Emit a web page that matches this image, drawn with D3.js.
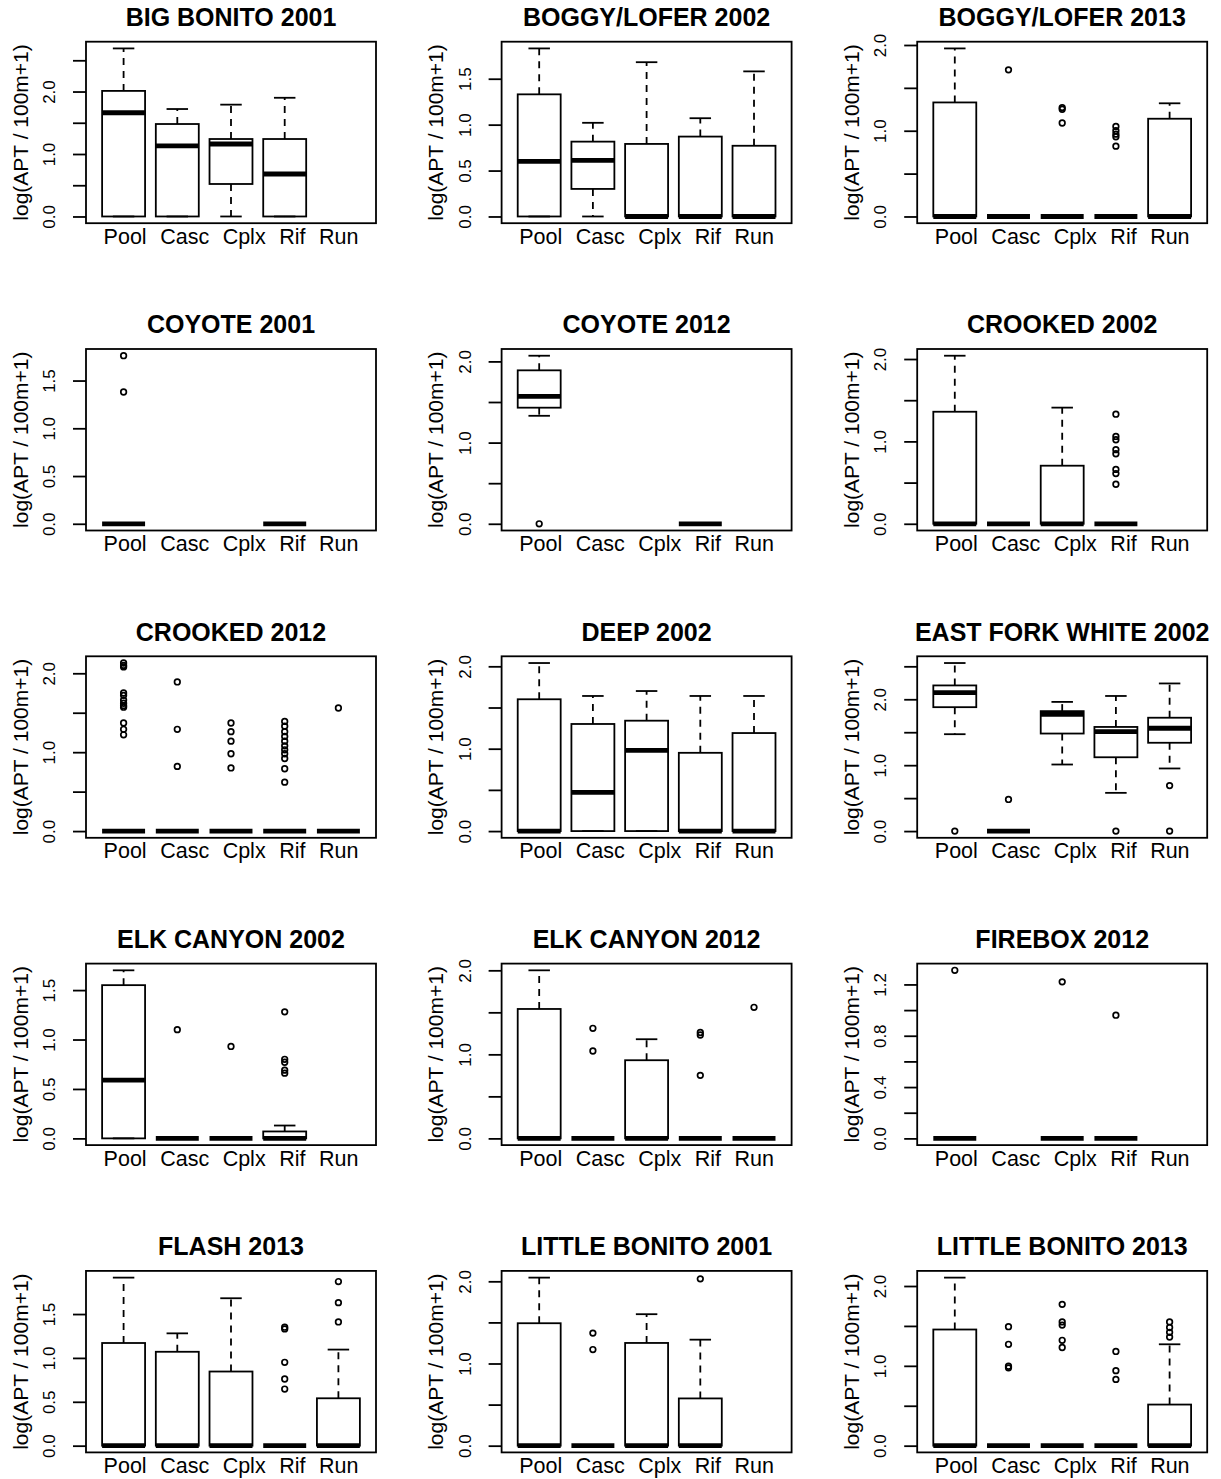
<!DOCTYPE html>
<html>
<head>
<meta charset="utf-8">
<script src="https://cdn.jsdelivr.net/npm/d3@7"></script>
<style>
  body { margin: 0; background: #fff; }
  svg text { font-family: "Liberation Sans", Arial, sans-serif; fill: #000; }
</style>
</head>
<body>
<script>
'use strict';

// panel titles, in reading order (3 per row)
var panels = [
  'BIG BONITO 2001', 'BOGGY/LOFER 2002', 'BOGGY/LOFER 2013',
  'COYOTE 2001', 'COYOTE 2012', 'CROOKED 2002',
  'CROOKED 2012', 'DEEP 2002', 'EAST FORK WHITE 2002',
  'ELK CANYON 2002', 'ELK CANYON 2012', 'FIREBOX 2012',
  'FLASH 2013', 'LITTLE BONITO 2001', 'LITTLE BONITO 2013'
];

var habitats = ['Pool', 'Casc', 'Cplx', 'Rif', 'Run'];

// [low whisker, Q1, median, Q3, high whisker] per habitat, null = no samples
var stats = [
  [[0, 0, 1.66, 2.01, 2.69], [0, 0, 1.13, 1.48, 1.72], [0, 0.52, 1.16, 1.24, 1.79], [0, 0, 0.68, 1.24, 1.90], null],
  [[0, 0, 0.60, 1.33, 1.83], [0, 0.30, 0.61, 0.815, 1.02], [0, 0, 0, 0.79, 1.68], [0, 0, 0, 0.87, 1.07], [0, 0, 0, 0.77, 1.58]],
  [[0, 0, 0, 1.33, 1.96], [0, 0, 0, 0, 0], [0, 0, 0, 0, 0], [0, 0, 0, 0, 0], [0, 0, 0, 1.14, 1.32]],
  [[0, 0, 0, 0, 0], null, null, [0, 0, 0, 0, 0], null],
  [[1.33, 1.43, 1.57, 1.89, 2.07], null, null, [0, 0, 0, 0, 0], null],
  [[0, 0, 0, 1.36, 2.04], [0, 0, 0, 0, 0], [0, 0, 0, 0.705, 1.41], [0, 0, 0, 0, 0], null],
  [[0, 0, 0, 0, 0], [0, 0, 0, 0, 0], [0, 0, 0, 0, 0], [0, 0, 0, 0, 0], [0, 0, 0, 0, 0]],
  [[0, 0, 0, 1.60, 2.04], [0, 0, 0.47, 1.30, 1.64], [0, 0, 0.98, 1.34, 1.70], [0, 0, 0, 0.95, 1.64], [0, 0, 0, 1.19, 1.64]],
  [[1.47, 1.88, 2.10, 2.21, 2.55], [0, 0, 0, 0, 0], [1.01, 1.48, 1.77, 1.82, 1.96], [0.58, 1.12, 1.51, 1.58, 2.05], [0.95, 1.34, 1.56, 1.72, 2.24]],
  [[0, 0, 0.59, 1.55, 1.70], [0, 0, 0, 0, 0], [0, 0, 0, 0, 0], [0, 0, 0, 0.07, 0.13], null],
  [[0, 0, 0, 1.54, 2.0], [0, 0, 0, 0, 0], [0, 0, 0, 0.93, 1.18], [0, 0, 0, 0, 0], [0, 0, 0, 0, 0]],
  [[0, 0, 0, 0, 0], null, [0, 0, 0, 0, 0], [0, 0, 0, 0, 0], null],
  [[0, 0, 0, 1.17, 1.915], [0, 0, 0, 1.07, 1.28], [0, 0, 0, 0.845, 1.68], [0, 0, 0, 0, 0], [0, 0, 0, 0.54, 1.095]],
  [[0, 0, 0, 1.49, 2.045], [0, 0, 0, 0, 0], [0, 0, 0, 1.25, 1.60], [0, 0, 0, 0.575, 1.29], null],
  [[0, 0, 0, 1.455, 2.105], [0, 0, 0, 0, 0], [0, 0, 0, 0, 0], [0, 0, 0, 0, 0], [0, 0, 0, 0.515, 1.27]]
];

// outlying points per habitat
var outliers = [
  [[], [], [], [], []],
  [[], [], [], [], []],
  [[], [1.71], [1.27, 1.25, 1.09], [1.05, 1.0, 0.96, 0.93, 0.82], []],
  [[1.76, 1.38], [], [], [], []],
  [[0], [], [], [], []],
  [[], [], [], [1.33, 1.06, 1.02, 0.90, 0.85, 0.66, 0.61, 0.48], []],
  [[2.13, 2.10, 2.08, 1.75, 1.72, 1.66, 1.62, 1.59, 1.57, 1.37, 1.29, 1.22],
   [1.89, 1.29, 0.82],
   [1.37, 1.26, 1.14, 0.98, 0.80],
   [1.39, 1.33, 1.26, 1.20, 1.14, 1.08, 1.03, 0.98, 0.92, 0.79, 0.62],
   [1.56]],
  [[], [], [], [], []],
  [[0], [0.48], [], [0], [0.69, 0]],
  [[], [1.10], [0.93], [1.28, 0.80, 0.77, 0.69, 0.66], []],
  [[], [1.31, 1.04], [], [1.26, 1.23, 0.75], [1.56]],
  [[1.31], [], [1.22], [0.96], []],
  [[], [], [], [1.35, 1.33, 0.95, 0.76, 0.645], [1.87, 1.63, 1.41]],
  [[], [1.37, 1.17], [], [2.03], []],
  [[], [1.49, 1.27, 0.995, 0.975], [1.77, 1.55, 1.51, 1.32, 1.23], [1.18, 0.94, 0.83], [1.55, 1.48, 1.42, 1.36]]
];

// y ticks and the ones that carry a label
var yTicks = [
  [0, 0.5, 1, 1.5, 2, 2.5], [0, 0.5, 1, 1.5], [0, 0.5, 1, 1.5, 2],
  [0, 0.5, 1, 1.5], [0, 0.5, 1, 1.5, 2], [0, 0.5, 1, 1.5, 2],
  [0, 0.5, 1, 1.5, 2], [0, 0.5, 1, 1.5, 2], [0, 0.5, 1, 1.5, 2, 2.5],
  [0, 0.5, 1, 1.5], [0, 0.5, 1, 1.5, 2], [0, 0.2, 0.4, 0.6, 0.8, 1.0, 1.2],
  [0, 0.5, 1, 1.5], [0, 0.5, 1, 1.5, 2], [0, 0.5, 1, 1.5, 2]
];
var yLabels = [
  [0, 1, 2], [0, 0.5, 1, 1.5], [0, 1, 2],
  [0, 0.5, 1, 1.5], [0, 1, 2], [0, 1, 2],
  [0, 1, 2], [0, 1, 2], [0, 1, 2],
  [0, 0.5, 1, 1.5], [0, 1, 2], [0, 0.4, 0.8, 1.2],
  [0, 0.5, 1, 1.5], [0, 1, 2], [0, 1, 2]
];

var Y_TITLE = 'log(APT / 100m+1)';

// panel geometry
var W = 290, H = 181.5;
var X0 = 86, Y0 = 41.7, DX = 415.6, DY = 307.3;

var svg = d3.select('body')
    .append('svg')
    .attr('width', 1221)
    .attr('height', 1479);

var fmt = d3.format('.1f');

panels.forEach(function(title, i) {
    var col = i % 3, row = Math.floor(i / 3);
    var g = svg.append('g')
        .attr('transform', 'translate(' + (X0 + col * DX) + ',' + (Y0 + row * DY) + ')');

    // R style range: data extent padded by 4%
    var all = [];
    stats[i].forEach(function(s) { if (s) all = all.concat(s); });
    outliers[i].forEach(function(o) { all = all.concat(o); });
    var lo = d3.min(all), hi = d3.max(all), pad = (hi - lo) * 0.04;

    var y = d3.scaleLinear().domain([lo - pad, hi + pad]).range([H, 0]);
    var x = d3.scaleLinear().domain([0.3, 5.7]).range([0, W]);

    var boxes = habitats.map(function(h, k) {
        return { k: k + 1, s: stats[i][k], out: outliers[i][k] };
    });

    boxes.forEach(function(b) {
        var s = b.s;
        if (s) {
            // whiskers
            g.append('line')
                .attr('x1', x(b.k)).attr('x2', x(b.k))
                .attr('y1', y(s[3])).attr('y2', y(s[4]))
                .attr('stroke', '#000').attr('stroke-width', 1.8)
                .attr('stroke-dasharray', '7,6');
            g.append('line')
                .attr('x1', x(b.k)).attr('x2', x(b.k))
                .attr('y1', y(s[1])).attr('y2', y(s[0]))
                .attr('stroke', '#000').attr('stroke-width', 1.8)
                .attr('stroke-dasharray', '7,6');
            // staples
            [s[0], s[4]].forEach(function(v) {
                g.append('line')
                    .attr('x1', x(b.k - 0.2)).attr('x2', x(b.k + 0.2))
                    .attr('y1', y(v)).attr('y2', y(v))
                    .attr('stroke', '#000').attr('stroke-width', 1.8);
            });
            // box
            g.append('rect')
                .attr('x', x(b.k - 0.4))
                .attr('y', y(s[3]))
                .attr('width', x(b.k + 0.4) - x(b.k - 0.4))
                .attr('height', y(s[1]) - y(s[3]))
                .attr('fill', 'none')
                .attr('stroke', '#000').attr('stroke-width', 1.8);
            // median
            g.append('line')
                .attr('x1', x(b.k - 0.4)).attr('x2', x(b.k + 0.4))
                .attr('y1', y(s[2])).attr('y2', y(s[2]))
                .attr('stroke', '#000').attr('stroke-width', 4.8);
        }
        g.selectAll(null)
            .data(b.out)
            .enter().append('circle')
            .attr('cx', x(b.k))
            .attr('cy', function(d) { return y(d); })
            .attr('r', 2.8)
            .attr('fill', 'none')
            .attr('stroke', '#000')
            .attr('stroke-width', 1.7);
    });

    // frame
    g.append('rect')
        .attr('width', W).attr('height', H)
        .attr('fill', 'none')
        .attr('stroke', '#000').attr('stroke-width', 1.8);

    // y axis
    var ax = g.append('g')
        .call(d3.axisLeft(y)
            .tickValues(yTicks[i])
            .tickSize(13)
            .tickFormat(function(v) {
                return yLabels[i].indexOf(v) >= 0 ? fmt(v) : '';
            }));
    ax.select('.domain').remove();
    ax.selectAll('line').attr('stroke-width', 1.8);
    ax.selectAll('text')
        .attr('x', null).attr('dy', null)
        .attr('text-anchor', 'middle')
        .attr('transform', 'translate(-31,0) rotate(-90)')
        .style('font-size', '17px');

    // habitat labels: one centred line under the panel
    var lab = g.append('text')
        .attr('x', W / 2)
        .attr('y', H + 20.5)
        .attr('text-anchor', 'middle')
        .style('font-size', '21.5px');
    lab.selectAll('tspan')
        .data(habitats)
        .enter().append('tspan')
        .attr('dx', function(d, k) { return k === 0 ? 0 : 13.5; })
        .text(function(d) { return d; });

    // y title
    g.append('text')
        .attr('transform', 'translate(-58.5,' + (H / 2) + ') rotate(-90)')
        .attr('text-anchor', 'middle')
        .style('font-size', '21px')
        .text(Y_TITLE);

    // panel title
    g.append('text')
        .attr('x', W / 2)
        .attr('y', -15.7)
        .attr('text-anchor', 'middle')
        .style('font-size', '25px')
        .style('font-weight', 'bold')
        .text(title);
});
</script>
</body>
</html>
